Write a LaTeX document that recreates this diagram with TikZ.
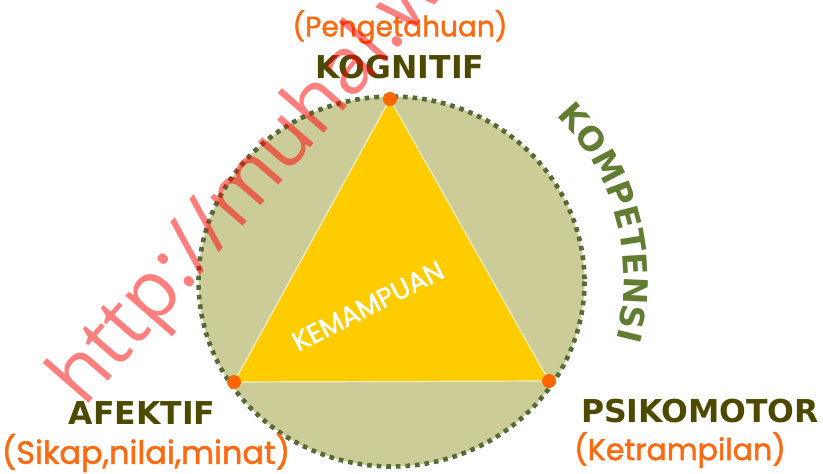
\documentclass[tikz,border=0pt]{standalone}
\usepackage{fontspec}
\setmainfont{DejaVu Sans}
\newfontfamily\headfont{DejaVu Sans}
\newfontfamily\handfont{Poppins}[FakeBold=1.6]
\newfontfamily\urlfont{Open Sans}
\usetikzlibrary{decorations.text}

\definecolor{khaki}{HTML}{CCCC99}
\definecolor{gold}{HTML}{FFCC00}
\definecolor{edgecream}{HTML}{F4EDC4}
\definecolor{rimgreen}{HTML}{566A36}
\definecolor{vertexorange}{HTML}{FF6600}
\definecolor{labeldark}{HTML}{4D4A00}
\definecolor{orangetxt}{HTML}{FF6A10}
\definecolor{kompgreen}{HTML}{627D32}
\definecolor{markred}{HTML}{FF0000}

\begin{document}
\begin{tikzpicture}[x=1pt,y=-1pt,
  headlbl/.style={font=\headfont\bfseries\fontsize{31.5}{36}\selectfont, text=labeldark, inner sep=0pt},
  sublbl/.style={font=\handfont\fontsize{30}{34}\selectfont, text=orangetxt, inner sep=0pt},
  vertex/.style={circle, fill=vertexorange, minimum size=14pt, inner sep=0pt}]

\useasboundingbox (0,0) rectangle (823,474);
\clip (0,0) rectangle (823,474);

% disc of competence
\coordinate (ctr) at (391.5,281.5);
\fill[khaki] (ctr) ellipse [x radius=193, y radius=185];

% triangle of abilities
\coordinate (top) at (390,99);
\coordinate (left) at (234,382);
\coordinate (right) at (549,381);
\filldraw[fill=gold, draw=edgecream, line width=1.2pt, line join=round]
  (top) -- (left) -- (right) -- cycle;

% dotted rim
\draw[rimgreen, line width=4.6pt, dash pattern=on 4.6pt off 5pt]
  (ctr) ellipse [x radius=193, y radius=185];

% corner markers
\node[vertex] (kv) at (top) {};
\node[vertex] (av) at (left) {};
\node[vertex] (pv) at (right) {};

% inner caption
\node[font=\handfont\fontsize{27}{30}\selectfont, text=white, rotate=27, inner sep=0pt]
  (kemampuan) at (368,306) {KEMAMPUAN};

% corner labels
\node[sublbl, font=\handfont\fontsize{28}{32}\selectfont] (kogsub) at (400,27) {(Pengetahuan)};
\node[headlbl] (kog) at (400,67) {KOGNITIF};
\node[headlbl] (afe) at (142,413) {AFEKTIF};
\node[sublbl, font=\handfont\fontsize{32}{36}\selectfont] (afesub) at (146,453) {(Sikap,nilai,minat)};
\node[headlbl] (psi) at (700,411) {PSIKOMOTOR};
\node[sublbl] (psisub) at (680,450) {(Ketrampilan)};

% curved title along the rim
\path[decorate, decoration={text along path, text align=center,
    text={|\headfont\bfseries\fontsize{33}{33}\selectfont\color{kompgreen}|KOMPETENSI}}]
  (394,279) ++(-88:230) arc[start angle=-88, end angle=58, radius=230];

% address stamp
\node[anchor=base west, rotate=49, inner sep=0pt, text=markred, text opacity=0.5,
      font=\urlfont\fontsize{80}{80}\selectfont] (stamp) at (84,409) {http://muhal.w};

\end{tikzpicture}
\end{document}
